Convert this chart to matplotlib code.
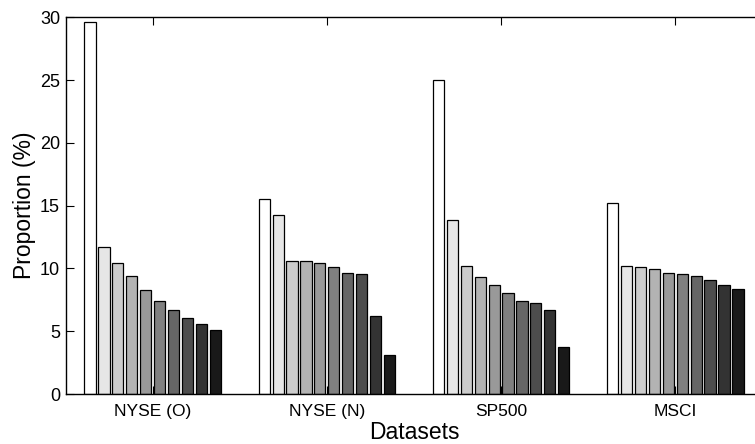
import matplotlib
matplotlib.use("Agg")
import matplotlib.pyplot as plt
import numpy as np

datasets = ["NYSE (O)", "NYSE (N)", "SP500", "MSCI"]
nyse_o = [29.6, 11.67, 10.40, 9.36, 8.27, 7.42, 6.66, 6.02, 5.57, 5.09]
nyse_n = [15.54, 14.24, 10.63, 10.63, 10.45, 10.08, 9.60, 9.57, 6.21, 3.10]
sp500 = [24.98, 13.84, 10.16, 9.33, 8.67, 8.04, 7.40, 7.24, 6.68, 3.74]
msci = [15.22, 10.21, 10.13, 9.92, 9.60, 9.57, 9.41, 9.07, 8.67, 8.35]
yticks = [0, 5, 10, 15, 20, 25, 30]

plt.rcParams['font.family'] = ['Liberation Sans', 'DejaVu Sans']

values = np.array([nyse_o, nyse_n, sp500, msci])
n_groups, n_bars = values.shape

fig = plt.figure(figsize=(7.55, 4.44), dpi=100)
ax = fig.add_axes([0.0869, 0.1126, 0.9228, 0.8484])

group_x = np.arange(1, n_groups + 1)
slot = 0.8 / n_bars
bar_w = slot * 0.8
for k in range(n_bars):
    g = 1.0 - k / n_bars
    offs = (k - (n_bars - 1) / 2) * slot
    ax.bar(group_x + offs, values[:, k], width=bar_w, color=(g, g, g),
           edgecolor='black', linewidth=0.9, zorder=2)

ax.set_xlim(0.5, 4.5)
ax.set_ylim(0, 30)
ax.set_xticks(group_x)
ax.set_xticklabels(datasets, fontsize=12.5)
ax.set_yticks(yticks)
ax.set_yticklabels([str(t) for t in yticks], fontsize=13)
ax.tick_params(direction='in', length=6, width=0.8, top=True, right=False, pad=4)
ax.tick_params(axis='x', pad=7)
for s in ax.spines.values():
    s.set_linewidth(1.0)
ax.set_xlabel("Datasets", fontsize=16.5, labelpad=1.5)
ax.set_ylabel("Proportion (%)", fontsize=16.5, labelpad=3)

fig.savefig("out.png", dpi=100)
